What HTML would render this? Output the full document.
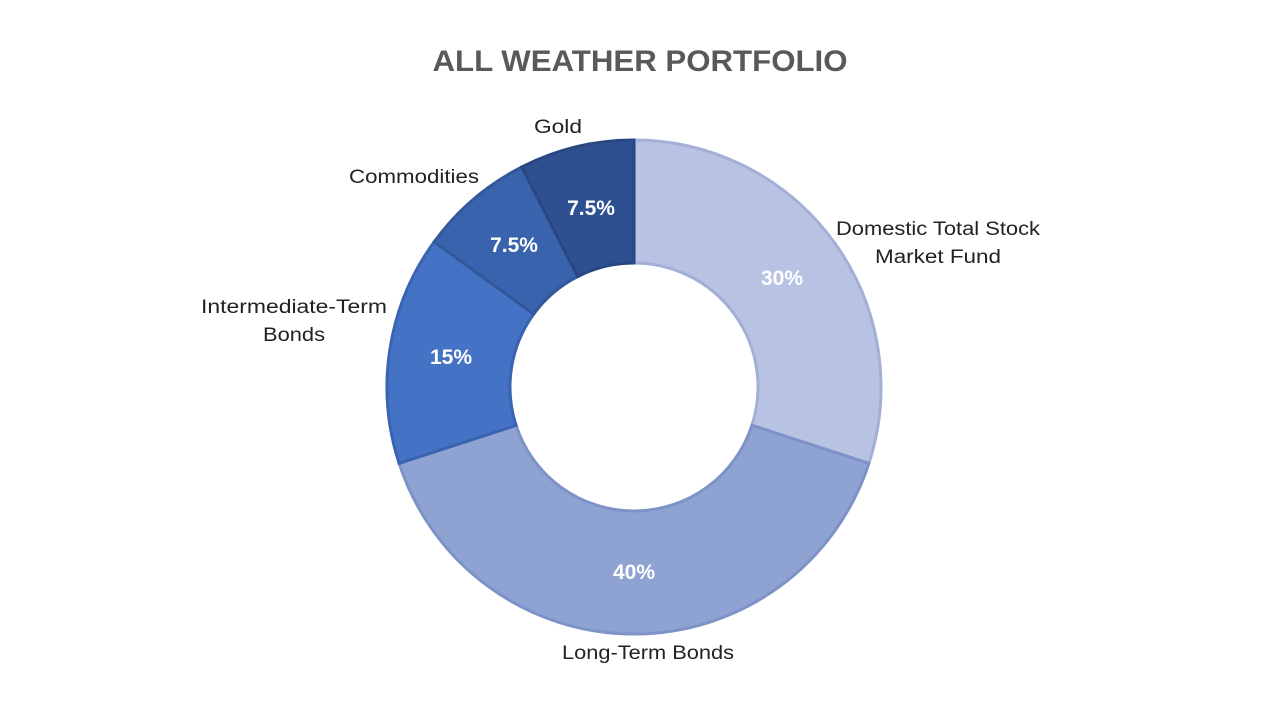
<!DOCTYPE html>
<html><head><style>
body{margin:0;background:#fff}
svg text{font-family:"Liberation Sans",sans-serif}
</style></head><body>
<svg id="s" width="1280" height="720" viewBox="0 0 1280 720">
<rect width="1280" height="720" fill="#fff"/>
<g id="g"></g>
<text x="640" y="71" text-anchor="middle" font-size="30" font-weight="bold" fill="#595959" textLength="415" lengthAdjust="spacingAndGlyphs">ALL WEATHER PORTFOLIO</text>
<g font-size="19" fill="#222" text-anchor="middle" lengthAdjust="spacingAndGlyphs">
<text x="558" y="133" textLength="48" lengthAdjust="spacingAndGlyphs">Gold</text>
<text x="414" y="183" textLength="130" lengthAdjust="spacingAndGlyphs">Commodities</text>
<text x="294" y="313" textLength="186" lengthAdjust="spacingAndGlyphs">Intermediate-Term</text>
<text x="294" y="341" textLength="62" lengthAdjust="spacingAndGlyphs">Bonds</text>
<text x="938" y="235" textLength="204" lengthAdjust="spacingAndGlyphs">Domestic Total Stock</text>
<text x="938" y="263" textLength="126" lengthAdjust="spacingAndGlyphs">Market Fund</text>
<text x="648" y="659" textLength="172" lengthAdjust="spacingAndGlyphs">Long-Term Bonds</text>
</g>
<g font-size="21" font-weight="bold" fill="#fff" text-anchor="middle">
<text x="782" y="285">30%</text>
<text x="634" y="579">40%</text>
<text x="451" y="364">15%</text>
<text x="514" y="252">7.5%</text>
<text x="591" y="215">7.5%</text>
</g>
</svg>
<script>
var cx=634,cy=387,R=247,r=124;
var d=[[30,"#b8c2e3","#a3afd6"],[40,"#8fa3d3","#7d92c6"],[15,"#4472c4","#3a64b0"],[7.5,"#3a63ae","#32589c"],[7.5,"#2f5090","#294683"]];
var a=0,h="";
function p(rad,t){var an=(t/100)*2*Math.PI-Math.PI/2;return (cx+rad*Math.cos(an)).toFixed(2)+","+(cy+rad*Math.sin(an)).toFixed(2);}
d.forEach(function(s){var b=a+s[0];var l=s[0]>50?1:0;
h+='<path d="M'+p(R,a)+' A'+R+','+R+' 0 '+l+' 1 '+p(R,b)+' L'+p(r,b)+' A'+r+','+r+' 0 '+l+' 0 '+p(r,a)+' Z" fill="'+s[1]+'" stroke="'+s[2]+'" stroke-width="3"/>';a=b;});
document.getElementById("g").innerHTML=h;
</script>
</body></html>
